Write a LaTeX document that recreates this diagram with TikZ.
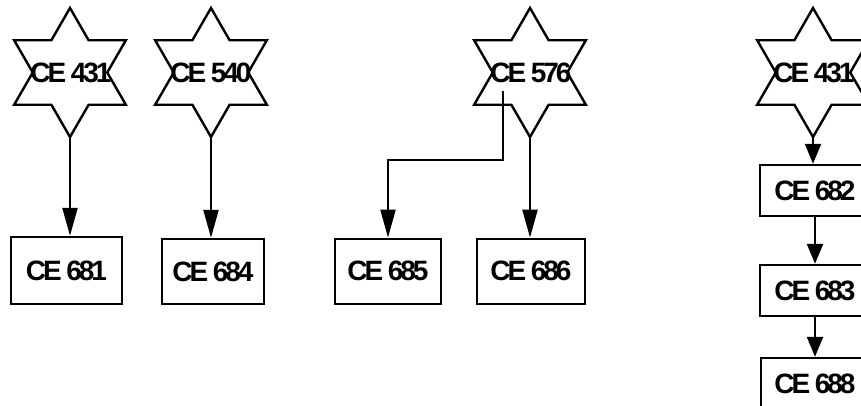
\documentclass[tikz,border=0pt]{standalone}
\usepackage{fontspec}
\setmainfont{Liberation Sans}
\newfontfamily\lblfont{Liberation Sans}[LetterSpace=-11]
\usetikzlibrary{arrows.meta,calc}
\tikzset{
  lbl/.style={font=\lblfont\bfseries\fontsize{28}{32}\selectfont,inner sep=0pt},
  starline/.style={draw,line width=2.4pt,line join=miter},
  boxnode/.style={lbl,draw,line width=2.4pt,rectangle,inner sep=0pt},
  arrlong/.style={line width=2.2pt,-{Triangle[length=28pt,width=15pt]}},
  arrshort/.style={line width=2.2pt,-{Triangle[length=20pt,width=16pt]}}
}
\newcommand{\hexstar}[1]{%
  \draw[starline] ($(#1)+(90:64.5)$) -- ($(#1)+(60:37.24)$) -- ($(#1)+(30:64.5)$)
   -- ($(#1)+(0:37.24)$) -- ($(#1)+(-30:64.5)$) -- ($(#1)+(-60:37.24)$)
   -- ($(#1)+(-90:64.5)$) -- ($(#1)+(-120:37.24)$) -- ($(#1)+(-150:64.5)$)
   -- ($(#1)+(180:37.24)$) -- ($(#1)+(150:64.5)$) -- ($(#1)+(120:37.24)$) -- cycle;}
\begin{document}
\begin{tikzpicture}[x=1pt,y=-1pt]
\useasboundingbox (0,0) rectangle (861,406);
\clip (0,0) rectangle (861,406);
\fill[white] (0,0) rectangle (861,406);
\node[lbl] (s1) at (71,72.5) {CE 431};
\node[lbl] (s2) at (211,72.5) {CE 540};
\node[lbl] (s3) at (531,72.5) {CE 576};
\node[lbl] (s4) at (814,72.5) {CE 431};
\hexstar{70,72.5}
\hexstar{211,72.5}
\hexstar{530,72.5}
\hexstar{813,72.5}
\coordinate (s1b) at (70,137);
\coordinate (s2b) at (211,137);
\coordinate (s3b) at (530,137);
\coordinate (s4b) at (813,137);
\coordinate (c3) at ($(s3.center)+(-28,19)$);
\node[boxnode,minimum width=111pt,minimum height=67pt] (b681) at (66.5,270.5) {CE 681};
\node[boxnode,minimum width=102pt,minimum height=65pt] (b684) at (213,271.5) {CE 684};
\node[boxnode,minimum width=106pt,minimum height=65pt] (b685) at (388,271.3) {CE 685};
\node[boxnode,minimum width=108pt,minimum height=65pt] (b686) at (531,271.3) {CE 686};
\node[boxnode,minimum width=110pt,minimum height=51pt] (b682) at (815,190.5) {CE 682};
\node[boxnode,minimum width=110pt,minimum height=51pt] (b683) at (815,290.5) {CE 683};
\node[boxnode,minimum width=108pt,minimum height=51pt] (b688) at (815,383.5) {CE 688};
\draw[arrlong] (s1b) -- (s1b |- b681.north);
\draw[arrlong] (s2b) -- (s2b |- b684.north);
\draw[arrlong] (s3b) -- (s3b |- b686.north);
\draw[arrlong] (c3) -- ++(0,68.3) -| (b685.north);
\draw[arrshort] (s4b) -- (s4b |- b682.north);
\draw[arrshort] (b682.south) -- (b683.north);
\draw[arrshort] (b683.south) -- (b688.north);
\end{tikzpicture}
\end{document}
